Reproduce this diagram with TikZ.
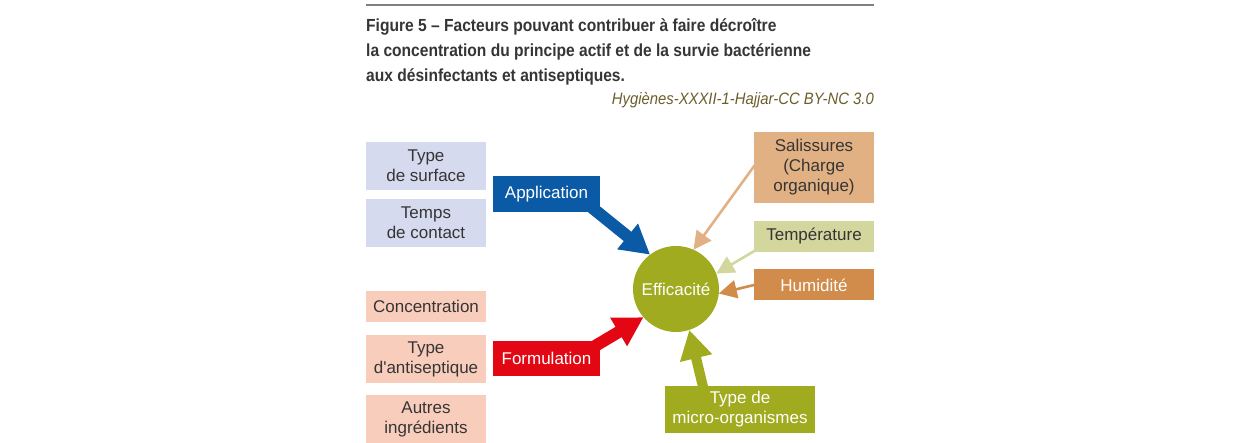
\documentclass[tikz,border=0pt]{standalone}
\usepackage{fontspec}
\setmainfont{Liberation Sans}[Ligatures=TeXOff]
\newfontfamily\titlefont[FakeStretch=0.89]{Liberation Sans}
\newfontfamily\creditfont[FakeStretch=0.90]{Liberation Sans}
\usetikzlibrary{arrows.meta,backgrounds,calc}
\definecolor{lav}{HTML}{D6DAEF}
\definecolor{pinkb}{HTML}{F9CDBB}
\definecolor{blueb}{HTML}{0A5AA6}
\definecolor{redb}{HTML}{E30613}
\definecolor{tanb}{HTML}{E2B183}
\definecolor{paleg}{HTML}{D3D69D}
\definecolor{orangeb}{HTML}{D18B4A}
\definecolor{olive}{HTML}{A0AB1F}
\definecolor{txt}{HTML}{353535}
\definecolor{credit}{HTML}{6D5D2B}
\definecolor{rulec}{HTML}{808080}
\tikzset{
  box/.style={inner sep=0pt, outer sep=0pt, align=center, text=txt,
    font=\fontsize{17}{20}\selectfont},
  leftbox/.style={box, minimum width=120pt},
  darkbox/.style={box, text=white},
  titletxt/.style={inner sep=0pt, anchor=base west, text=txt,
    font=\titlefont\bfseries\fontsize{17.5}{25}\selectfont},
  bigarrow/.style={line width=12pt, -{Triangle[length=29pt,width=31pt]}},
  thinarrow/.style={line width=2.6pt, -{Triangle[length=18pt,width=18pt]}},
}
\begin{document}
\begin{tikzpicture}[x=1pt,y=-1pt]
\useasboundingbox (0,0) rectangle (1240,443);
% header
\coordinate (rl) at (366,5);
\coordinate (rr) at (874,5);
\draw[rulec, line width=1.2pt] (rl) -- (rr);
\node[titletxt] (t1) at (366,32) {Figure 5 – Facteurs pouvant contribuer à faire décroître};
\node[titletxt] (t2) at (366,57) {la concentration du principe actif et de la survie bactérienne};
\node[titletxt] (t3) at (366,82) {aux désinfectants et antiseptiques.};
\node[inner sep=0pt, anchor=base east, text=credit,
  font=\creditfont\itshape\fontsize{16.5}{18}\selectfont] (cr) at (874,105) {Hygiènes-XXXII-1-Hajjar-CC BY-NC 3.0};
% left boxes
\node[leftbox, fill=lav, minimum height=48pt] (surf) at (426,166) {Type\\de surface};
\node[leftbox, fill=lav, minimum height=48pt] (temps) at (426,223) {Temps\\de contact};
\node[leftbox, fill=pinkb, minimum height=31pt] (conc) at (426,306.5) {Concentration};
\node[leftbox, fill=pinkb, minimum height=48pt] (anti) at (426,359) {Type\\d'antiseptique};
\node[leftbox, fill=pinkb, minimum height=48pt] (autres) at (426,419) {Autres\\ingrédients};
% middle boxes
\node[darkbox, fill=blueb, minimum width=107pt, minimum height=36pt] (app) at (546.5,194) {Application};
\node[darkbox, fill=redb, minimum width=107pt, minimum height=35pt] (form) at (546.5,358.5) {Formulation};
% centre
\node[circle, fill=olive, minimum size=86pt, inner sep=0pt, outer sep=0pt, text=white,
  font=\fontsize{17}{18}\selectfont] (eff) at (676,289) {Efficacité};
% right boxes
\node[box, fill=tanb, minimum width=120pt, minimum height=71pt] (sal) at (814,167.5) {Salissures\\(Charge\\organique)};
\node[box, fill=paleg, minimum width=120pt, minimum height=31pt] (temp) at (814,236.5) {Température};
\node[darkbox, fill=orangeb, minimum width=120pt, minimum height=31pt] (hum) at (814,285) {Humidité};
\node[darkbox, fill=olive, minimum width=150pt, minimum height=47pt] (micro) at (740,409.5) {Type de\\micro-organismes};
% arrows
\begin{pgfonlayer}{background}
\draw[bigarrow, blueb] ($(app.south east)+(-15,-10)$) -- (eff.127);
\draw[bigarrow, redb] ($(form.north east)+(-15,11)$) -- (eff.221);
\draw[bigarrow, olive, line width=10pt] ($(micro.north west)+(40,9)$) -- (eff.288);
\draw[thinarrow, tanb] ($(sal.west)+(2,-4)$) -- (eff.66);
\draw[thinarrow, paleg] ($(temp.south west)+(2,-2)$) -- (eff.21);
\draw[thinarrow, orangeb] (hum.west) -- (eff.-6);
\end{pgfonlayer}
\end{tikzpicture}
\end{document}
